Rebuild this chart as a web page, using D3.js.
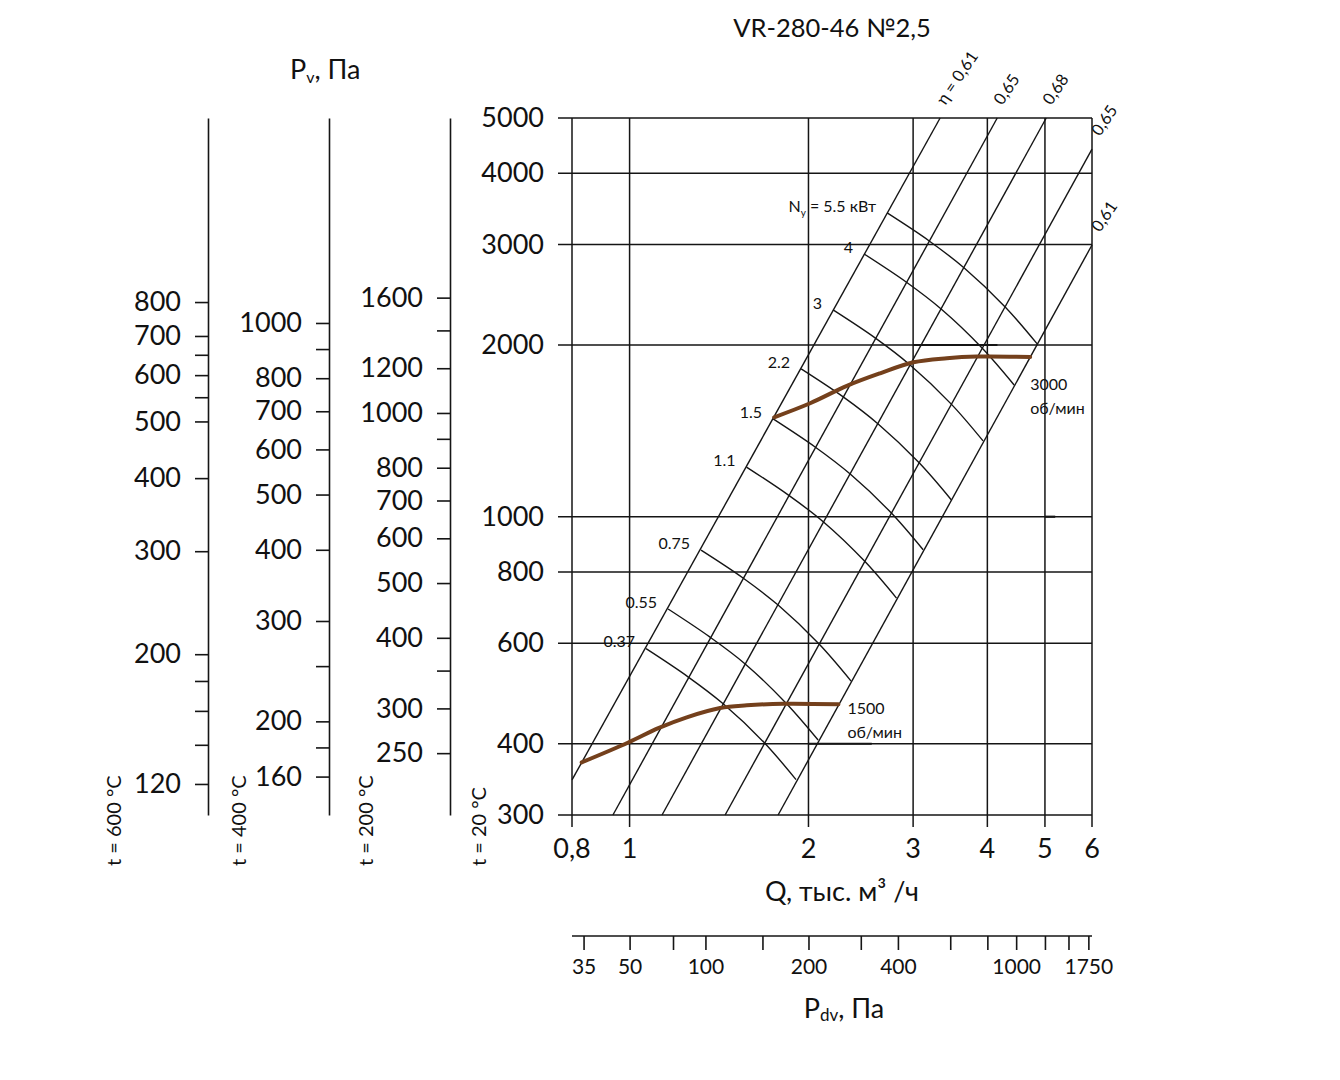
<!DOCTYPE html>
<html>
<head>
<meta charset="utf-8">
<script src="https://cdn.jsdelivr.net/npm/d3@7"></script>
<style>
  body { margin: 0; background: #fff; }
  text { font-family: Lato, "Open Sans", sans-serif; fill: #111; }
</style>
</head>
<body>
<svg id="chart" width="1340" height="1080"></svg>
<script>
// Q axis (thousand m3/h)
const qTicks = [0.8, 1, 2, 3, 4, 5, 6];
const qLabels = ["0,8", "1", "2", "3", "4", "5", "6"];
// Pv at t = 20 °C
const pTicks = [5000, 4000, 3000, 2000, 1000, 800, 600, 400, 300];
// dynamic pressure scale (tick under "100" sits where the sheet draws it)
const pdvTicks = [35, 50, 70, 90, 140, 200, 300, 400, 600, 800, 1000, 1250, 1500, 1750];
const pdvText = ["35", "50", "", "100", "", "200", "", "400", "", "", "1000", "", "", "1750"];

// hot gas pressure scales
const t600Ticks = [800, 700, 650, 600, 550, 500, 400, 300, 200, 180, 160, 140, 120];
const t600Labels = [800, 700, 600, 500, 400, 300, 200, 120];
const t400Ticks = [1000, 900, 800, 700, 600, 500, 400, 300, 250, 200, 180, 160];
const t400Labels = [1000, 800, 700, 600, 500, 400, 300, 200, 160];
const t200Ticks = [1600, 1400, 1200, 1000, 900, 800, 700, 600, 500, 400, 350, 300, 250];
const t200Labels = [1600, 1200, 1000, 800, 700, 600, 500, 400, 300, 250];

// efficiency rays (start / end in Q, P)
const etaLabels = ["η = 0,61", "0,65", "0,68", "0,65", "0,61"];
const etaStart = [[0.8, 345.6], [0.9375, 300], [1.134, 300], [1.448, 300], [1.778, 300]];
const etaEnd = [[3.331, 5000], [4.156, 5000], [5.025, 5000], [6, 4411], [6, 2995]];

// motor power curves
const powerLabels = ["5.5", "4", "3", "2.2", "1.5", "1.1", "0.75", "0.55", "0.37"];
const powerQ = [
  [2.713, 3.193, 3.657, 4.286, 4.852],
  [2.481, 2.920, 3.344, 3.919, 4.437],
  [2.200, 2.589, 2.965, 3.475, 3.934],
  [1.944, 2.288, 2.620, 3.071, 3.477],
  [1.744, 2.052, 2.351, 2.755, 3.119],
  [1.573, 1.851, 2.120, 2.485, 2.813],
  [1.319, 1.552, 1.778, 2.084, 2.359],
  [1.161, 1.366, 1.565, 1.834, 2.076],
  [1.066, 1.254, 1.437, 1.684, 1.906]
];
const powerP = [
  [3408, 3044, 2729, 2332, 2009],
  [2888, 2579, 2313, 1976, 1702],
  [2304, 2058, 1845, 1577, 1358],
  [1816, 1622, 1454, 1243, 1071],
  [1484, 1325, 1188, 1016, 875],
  [1222, 1091, 979, 836, 720],
  [874, 781, 700, 598, 515],
  [689, 615, 552, 471, 406],
  [587, 524, 470, 402, 346]
];

// speed curves
const rpm3000Q = [1.751, 2.013, 2.321, 2.640, 3.004, 3.419, 3.841, 4.722];
const rpm3000P = [1494, 1581, 1696, 1784, 1865, 1896, 1909, 1906];
const rpm1500Q = [0.8306, 0.9951, 1.118, 1.248, 1.420, 1.575, 1.815, 2.246];
const rpm1500P = [371, 402, 426, 445, 462, 467, 470, 469];

// short stray segments on the grid
const markQ = [[3, 4.159], [2, 2.556], [5, 5.203]];
const markP = [2000, 400, 1000];

const svg = d3.select("#chart");

const x = d3.scaleLog().domain([0.8, 6]).range([572, 1092]);
const y = d3.scaleLog().domain([300, 5000]).range([815, 118]);
const xPdv = d3.scaleLog().domain([32, 1800]).range([572, 1092]);

const y600 = d3.scaleLog().domain([106.2, 1651]).range([815, 118]);
const y400 = d3.scaleLog().domain([137, 2289]).range([815, 118]);
const y200 = d3.scaleLog().domain([194.3, 3327]).range([815, 118]);

const ink = "#151515";

// title
svg.append("text").attr("x", 832).attr("y", 37).attr("text-anchor", "middle")
  .style("font-size", "25.5px").text("VR-280-46 №2,5");

// Pv header
const pv = svg.append("text").attr("x", 290).attr("y", 79).style("font-size", "27px");
pv.append("tspan").text("P");
pv.append("tspan").attr("dy", 4).style("font-size", "16px").text("v");
pv.append("tspan").attr("dy", -4).text(", Па");

// grid
const grid = svg.append("g").attr("stroke", ink).attr("stroke-width", 1.5);
grid.selectAll(".h").data(pTicks).enter().append("line")
  .attr("x1", 558).attr("x2", x(6))
  .attr("y1", d => y(d)).attr("y2", d => y(d));
grid.selectAll(".v").data(qTicks).enter().append("line")
  .attr("x1", d => x(d)).attr("x2", d => x(d))
  .attr("y1", y(5000)).attr("y2", 827);

// main y labels
const yAxis = svg.append("g").attr("transform", "translate(572,0)")
  .call(d3.axisLeft(y).tickValues(pTicks).tickSize(0).tickPadding(28).tickFormat(d3.format("d")));
yAxis.select(".domain").remove();
yAxis.selectAll("text").style("font-size", "27px").attr("fill", "#111")
  .style("font-family", "Lato, sans-serif");

// x labels
svg.append("g").selectAll("text").data(qTicks).enter().append("text")
  .attr("x", d => x(d)).attr("y", 858).attr("text-anchor", "middle")
  .style("font-size", "27px").text((d, i) => qLabels[i]);

svg.append("text").attr("x", 842).attr("y", 901).attr("text-anchor", "middle")
  .style("font-size", "27px").text("Q, тыс. м³ /ч");

// left pressure axes
function hotAxis(scale, xPos, ticks, labels, tLabel, tx) {
  const g = svg.append("g").attr("transform", `translate(${xPos},0)`)
    .call(d3.axisLeft(scale).tickValues(ticks).tickSize(13).tickSizeOuter(0).tickPadding(14)
      .tickFormat(d => labels.includes(d) ? d : ""));
  g.select(".domain").attr("stroke", ink).attr("stroke-width", 1.6);
  g.selectAll(".tick line").attr("stroke", ink).attr("stroke-width", 1.6);
  g.selectAll("text").style("font-size", "27px").attr("fill", "#111")
    .style("font-family", "Lato, sans-serif");
  svg.append("text").attr("transform", `translate(${tx},866) rotate(-90)`)
    .style("font-size", "20px").text(tLabel);
}
hotAxis(y600, 208, t600Ticks, t600Labels, "t = 600 °C", 121);
hotAxis(y400, 329, t400Ticks, t400Labels, "t = 400 °C", 246);
hotAxis(y200, 450, t200Ticks, t200Labels, "t = 200 °C", 373);
svg.append("text").attr("transform", "translate(486,866) rotate(-90)")
  .style("font-size", "20px").text("t = 20 °C");

// dynamic pressure axis
const pdvAxis = svg.append("g").attr("transform", "translate(0,936)")
  .call(d3.axisBottom(xPdv).tickValues(pdvTicks).tickSize(14).tickSizeOuter(0).tickPadding(9)
    .tickFormat((d, i) => pdvText[i]));
pdvAxis.select(".domain").attr("stroke", ink).attr("stroke-width", 1.6)
  .attr("d", `M${xPdv(32)},0H${xPdv(1800)}`);
pdvAxis.selectAll(".tick line").attr("stroke", ink).attr("stroke-width", 1.6);
pdvAxis.selectAll("text").style("font-size", "21px").attr("fill", "#111")
  .style("font-family", "Lato, sans-serif");

const pd = svg.append("text").attr("x", 844).attr("y", 1018).attr("text-anchor", "middle")
  .style("font-size", "27px");
pd.append("tspan").text("P");
pd.append("tspan").attr("dy", 3).style("font-size", "17px").text("dv");
pd.append("tspan").attr("dy", -3).text(", Па");

// efficiency rays
const line = d3.line().x(d => x(d[0])).y(d => y(d[1]));
const rays = svg.append("g").attr("fill", "none").attr("stroke", ink).attr("stroke-width", 1.4);
etaStart.forEach((s, i) => {
  rays.append("path").attr("d", line([s, etaEnd[i]]));
});
etaEnd.forEach((e, i) => {
  const px = x(e[0]) + (e[0] >= 6 ? 8 : 5);
  const py = y(e[1]) - 12;
  svg.append("text").attr("transform", `translate(${px},${py}) rotate(-56)`)
    .style("font-size", "16.5px").text(etaLabels[i]);
});

// power curves
const curve = d3.line().x(d => x(d[0])).y(d => y(d[1])).curve(d3.curveCatmullRom);
const arcs = svg.append("g").attr("fill", "none").attr("stroke", ink).attr("stroke-width", 1.4);
powerQ.forEach((qs, i) => {
  const pts = qs.map((q, j) => [q, powerP[i][j]]);
  arcs.append("path").attr("d", curve(pts));
  const lx = x(qs[0]) - 11, ly = y(powerP[i][0]) - 7;
  const t = svg.append("text").attr("x", lx).attr("y", ly).attr("dy", "0.35em")
    .attr("text-anchor", "end").style("font-size", "16px");
  if (i === 0) {
    t.append("tspan").text("N");
    t.append("tspan").attr("dy", 4).style("font-size", "10px").text("y");
    t.append("tspan").attr("dy", -4).text(" = " + powerLabels[i] + " кВт");
  } else {
    t.text(powerLabels[i]);
  }
});

// stray segments
svg.append("g").attr("stroke", ink).attr("stroke-width", 2.2)
  .selectAll("line").data(markP).enter().append("line")
  .attr("x1", (d, i) => x(markQ[i][0])).attr("x2", (d, i) => x(markQ[i][1]))
  .attr("y1", d => y(d)).attr("y2", d => y(d));

// speed curves
const brown = "#74401c";
const c3000 = rpm3000Q.map((q, i) => [q, rpm3000P[i]]);
const c1500 = rpm1500Q.map((q, i) => [q, rpm1500P[i]]);
svg.append("path").attr("d", curve(c3000)).attr("fill", "none")
  .attr("stroke", brown).attr("stroke-width", 4).attr("stroke-linecap", "round");
svg.append("path").attr("d", curve(c1500)).attr("fill", "none")
  .attr("stroke", brown).attr("stroke-width", 4).attr("stroke-linecap", "round");

function rpmLabel(pt, dx, dy, txt) {
  const px = x(pt[0]) + dx, py = y(pt[1]) + dy;
  svg.append("text").attr("x", px).attr("y", py).style("font-size", "16px").text(txt);
  svg.append("text").attr("x", px).attr("y", py + 24).style("font-size", "16px").text("об/мин");
}
rpmLabel(c3000[c3000.length - 1], 0, 33, "3000");
rpmLabel(c1500[c1500.length - 1], 9, 10, "1500");
</script>
</body>
</html>
